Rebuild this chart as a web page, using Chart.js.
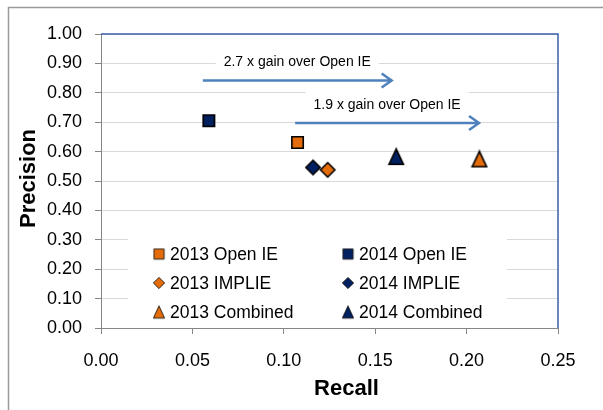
<!DOCTYPE html>
<html>
<head>
<meta charset="utf-8">
<script src="https://cdn.jsdelivr.net/npm/chart.js@4.4.1/dist/chart.umd.min.js"></script>
<style>
    html, body { margin: 0; padding: 0; background: #fff; }
    canvas { display: block; }
</style>
</head>
<body>
<canvas id="chart" width="603" height="410"></canvas>
<script>
// series, in legend order (row by row)
const seriesNames = ['2013 Open IE', '2014 Open IE', '2013 IMPLIE', '2014 IMPLIE', '2013 Combined', '2014 Combined'];
const recall = [0.1075, 0.059, 0.124, 0.116, 0.207, 0.1615];
const precision = [0.631, 0.705, 0.538, 0.546, 0.575, 0.583];
const seriesShape = ['square', 'square', 'diamond', 'diamond', 'triangle', 'triangle'];
const seriesColor = ['#E46C0A', '#002060', '#E46C0A', '#002060', '#E46C0A', '#002060'];

// gain arrows (data space)
const arrowLabels = ['2.7 x gain over Open IE', '1.9 x gain over Open IE'];
const arrowFrom = [0.0557, 0.1062];
const arrowTo = [0.159, 0.2068];
const arrowAt = [0.842, 0.697];

const xTicks = [0, 0.05, 0.10, 0.15, 0.20, 0.25];
const yTicks = [0, 0.1, 0.2, 0.3, 0.4, 0.5, 0.6, 0.7, 0.8, 0.9, 1.0];

const FONT = '"Liberation Sans", Arial, sans-serif';

function makeMarker(shape, fill, size, line, grow) {
    const c = document.createElement('canvas');
    const w = shape === 'square' ? size : size + grow;
    const h = shape === 'triangle' ? w + 1 : w;
    c.width = w + 2;
    c.height = h + 2;
    const ctx = c.getContext('2d');
    ctx.fillStyle = fill;
    ctx.strokeStyle = '#000';
    ctx.lineWidth = line;
    ctx.beginPath();
    if (shape === 'square') {
        ctx.rect(1 + line / 2, 1 + line / 2, w - line, h - line);
    } else if (shape === 'diamond') {
        ctx.moveTo(1 + w / 2, 1 + line / 2);
        ctx.lineTo(1 + w - line / 2, 1 + h / 2);
        ctx.lineTo(1 + w / 2, 1 + h - line / 2);
        ctx.lineTo(1 + line / 2, 1 + h / 2);
        ctx.closePath();
    } else {
        ctx.moveTo(1 + w / 2, 1 + line / 2);
        ctx.lineTo(1 + w - line / 2, 1 + h - line / 2);
        ctx.lineTo(1 + line / 2, 1 + h - line / 2);
        ctx.closePath();
    }
    ctx.fill();
    ctx.stroke();
    return c;
}

const plotMarkers = seriesNames.map((_, i) => makeMarker(seriesShape[i], seriesColor[i], 13, 1.6, 3));
const legendMarkers = seriesNames.map((_, i) => makeMarker(seriesShape[i], seriesColor[i], 11, 0.8, 1));

const decorPlugin = {
    id: 'decor',
    beforeDatasetsDraw(chart) {
        const { ctx, chartArea: a, scales: { x, y } } = chart;
        ctx.save();
        // white boxes behind the arrow captions
        ctx.font = `14px ${FONT}`;
        ctx.fillStyle = '#fff';
        arrowLabels.forEach((label, i) => {
            const cx = (x.getPixelForValue(arrowFrom[i]) + x.getPixelForValue(arrowTo[i])) / 2;
            const cy = y.getPixelForValue(arrowAt[i]) - 18;
            const tw = ctx.measureText(label).width;
            ctx.fillRect(cx - tw / 2 - 8, cy - 14, tw + 16, 28);
        });
        // legend box
        ctx.fillRect(a.left + 27, a.top + 198, 379, 90);
        ctx.font = `17.5px ${FONT}`;
        ctx.fillStyle = '#000';
        ctx.textBaseline = 'middle';
        seriesNames.forEach((name, i) => {
            const col = i % 2, row = Math.floor(i / 2);
            const mx = a.left + 58 + col * 189;
            const my = a.top + 220 + row * 29;
            const m = legendMarkers[i];
            ctx.drawImage(m, mx - m.width / 2, my - m.height / 2);
            ctx.fillText(name, mx + 11, my + 1);
        });
        // plot area border (top and right)
        ctx.strokeStyle = '#3A5FA8';
        ctx.lineWidth = 1.5;
        ctx.beginPath();
        ctx.moveTo(a.left, a.top);
        ctx.lineTo(a.right, a.top);
        ctx.lineTo(a.right, a.bottom);
        ctx.stroke();
        ctx.restore();
    },
    afterDatasetsDraw(chart) {
        const { ctx, scales: { x, y } } = chart;
        ctx.save();
        ctx.strokeStyle = '#4F81BD';
        ctx.lineWidth = 2.5;
        ctx.font = `14px ${FONT}`;
        ctx.textAlign = 'center';
        ctx.textBaseline = 'middle';
        ctx.fillStyle = '#000';
        arrowLabels.forEach((label, i) => {
            const x0 = x.getPixelForValue(arrowFrom[i]);
            const x1 = x.getPixelForValue(arrowTo[i]);
            const yy = y.getPixelForValue(arrowAt[i]);
            ctx.beginPath();
            ctx.moveTo(x0, yy);
            ctx.lineTo(x1 - 1, yy);
            ctx.moveTo(x1 - 10, yy - 7);
            ctx.lineTo(x1, yy);
            ctx.lineTo(x1 - 10, yy + 7);
            ctx.stroke();
            ctx.fillText(label, (x0 + x1) / 2, yy - 18);
        });
        ctx.restore();
    },
    afterDraw(chart) {
        const { ctx } = chart;
        ctx.save();
        // axis titles
        ctx.fillStyle = '#000';
        ctx.font = `bold 22px ${FONT}`;
        ctx.textAlign = 'center';
        ctx.textBaseline = 'middle';
        ctx.fillText('Recall', 346.5, 389);
        ctx.translate(29, 178.5);
        ctx.rotate(-Math.PI / 2);
        ctx.fillText('Precision', 0, 0);
        ctx.restore();
        // outer chart border
        ctx.save();
        ctx.strokeStyle = '#9a9a9a';
        ctx.lineWidth = 1.5;
        ctx.strokeRect(8.5, 7.5, 700, 700);
        ctx.restore();
    },
};

new Chart(document.getElementById('chart'), {
    type: 'scatter',
    data: {
        datasets: seriesNames.map((name, i) => ({
            label: name,
            data: [{ x: recall[i], y: precision[i] }],
            pointStyle: plotMarkers[i],
            pointRadius: 8,
        })),
    },
    options: {
        responsive: false,
        animation: false,
        devicePixelRatio: 1,
        layout: { padding: { left: 0, right: 45, top: 34, bottom: 0 } },
        plugins: { legend: { display: false }, tooltip: { enabled: false } },
        scales: {
            x: {
                type: 'linear',
                min: xTicks[0],
                max: xTicks[xTicks.length - 1],
                afterBuildTicks: s => { s.ticks = xTicks.map(v => ({ value: v })); },
                afterFit: s => { s.height = 82; },
                ticks: {
                    color: '#000',
                    padding: 16,
                    font: { family: FONT, size: 18 },
                    callback: v => v.toFixed(2),
                },
                grid: { drawOnChartArea: false, tickLength: 6, tickColor: '#868686' },
                border: { color: '#868686' },
            },
            y: {
                min: yTicks[0],
                max: yTicks[yTicks.length - 1],
                afterBuildTicks: s => { s.ticks = yTicks.map(v => ({ value: v })); },
                afterFit: s => { s.width = 101; },
                ticks: {
                    color: '#000',
                    padding: 13,
                    font: { family: FONT, size: 18 },
                    callback: v => v.toFixed(2),
                },
                grid: { color: '#D9D9D9', tickLength: 6, tickColor: '#868686' },
                border: { color: '#868686' },
            },
        },
    },
    plugins: [decorPlugin],
});
</script>
</body>
</html>
